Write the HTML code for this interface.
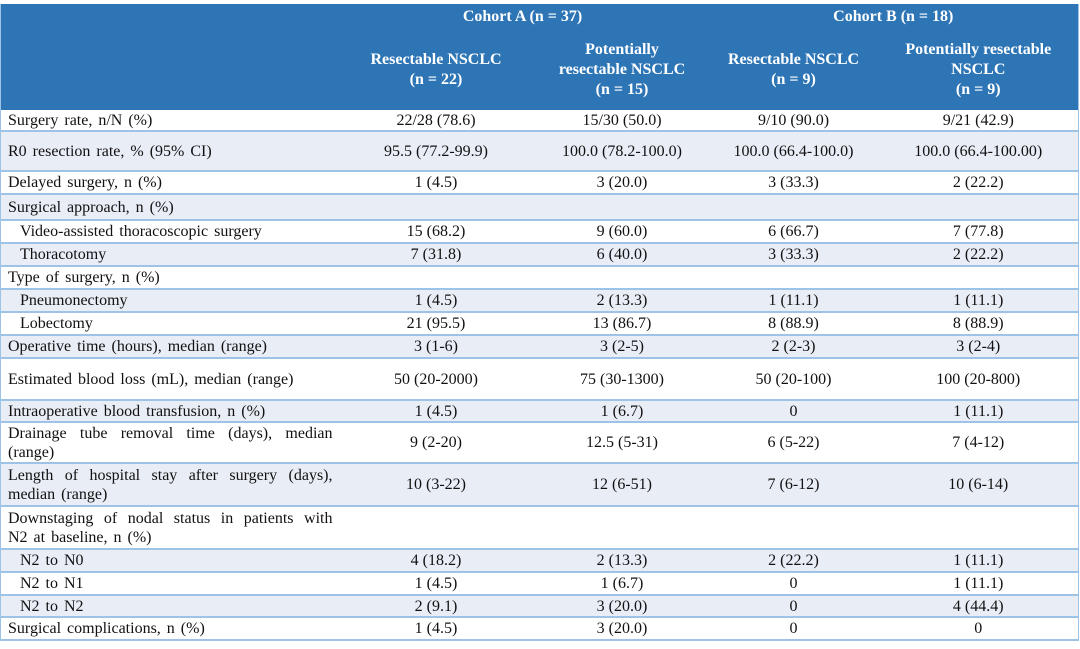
<!DOCTYPE html>
<html><head><style>
body{margin:0;background:#fff;width:1080px;height:649px;overflow:hidden}
table{position:absolute;left:0;top:4px;width:1078px;border-collapse:collapse;table-layout:fixed;font-family:"Liberation Serif",serif;font-size:16px;color:#111;border-left:1px solid #9DC3E6;border-right:1px solid #9DC3E6}
td,th{padding:0;border-bottom:2px solid #9DC3E6;line-height:19px;text-align:center;vertical-align:middle;white-space:nowrap;overflow:hidden}
th{background:#2E75B6;color:#fff;font-weight:bold;border:none;line-height:20px}
td.l{text-align:left;padding-left:7px;padding-right:4px;word-spacing:2px}
td.i{text-align:left;padding-left:19px;word-spacing:2px}
span.j{display:block;text-align:justify;text-align-last:justify}
tr.s td{background:#E9EDF6}
</style></head><body>
<table>
<colgroup><col style="width:336px"><col style="width:199px"><col style="width:173px"><col style="width:170px"><col style="width:200px"></colgroup>
<tr style="height:26px"><th></th><th colspan="2">Cohort A (n = 37)</th><th colspan="2">Cohort B (n = 18)</th></tr>
<tr style="height:80px"><th></th><th>Resectable NSCLC<br>(n = 22)</th><th>Potentially<br>resectable NSCLC<br>(n = 15)</th><th>Resectable NSCLC<br>(n = 9)</th><th>Potentially resectable<br>NSCLC<br>(n = 9)</th></tr>
<tr style="height:21px"><td class="l">Surgery rate, n/N (%)</td><td>22/28 (78.6)</td><td>15/30 (50.0)</td><td>9/10 (90.0)</td><td>9/21 (42.9)</td></tr>
<tr class="s" style="height:40px"><td class="l">R0 resection rate, % (95% CI)</td><td>95.5 (77.2-99.9)</td><td>100.0 (78.2-100.0)</td><td>100.0 (66.4-100.0)</td><td>100.0 (66.4-100.00)</td></tr>
<tr style="height:23px"><td class="l">Delayed surgery, n (%)</td><td>1 (4.5)</td><td>3 (20.0)</td><td>3 (33.3)</td><td>2 (22.2)</td></tr>
<tr class="s" style="height:26px"><td class="l">Surgical approach, n (%)</td><td></td><td></td><td></td><td></td></tr>
<tr style="height:23px"><td class="i">Video-assisted thoracoscopic surgery</td><td>15 (68.2)</td><td>9 (60.0)</td><td>6 (66.7)</td><td>7 (77.8)</td></tr>
<tr class="s" style="height:23px"><td class="i">Thoracotomy</td><td>7 (31.8)</td><td>6 (40.0)</td><td>3 (33.3)</td><td>2 (22.2)</td></tr>
<tr style="height:23px"><td class="l">Type of surgery, n (%)</td><td></td><td></td><td></td><td></td></tr>
<tr class="s" style="height:23px"><td class="i">Pneumonectomy</td><td>1 (4.5)</td><td>2 (13.3)</td><td>1 (11.1)</td><td>1 (11.1)</td></tr>
<tr style="height:23px"><td class="i">Lobectomy</td><td>21 (95.5)</td><td>13 (86.7)</td><td>8 (88.9)</td><td>8 (88.9)</td></tr>
<tr class="s" style="height:23px"><td class="l">Operative time (hours), median (range)</td><td>3 (1-6)</td><td>3 (2-5)</td><td>2 (2-3)</td><td>3 (2-4)</td></tr>
<tr style="height:42px"><td class="l">Estimated blood loss (mL), median (range)</td><td>50 (20-2000)</td><td>75 (30-1300)</td><td>50 (20-100)</td><td>100 (20-800)</td></tr>
<tr class="s" style="height:22px"><td class="l">Intraoperative blood transfusion, n (%)</td><td>1 (4.5)</td><td>1 (6.7)</td><td>0</td><td>1 (11.1)</td></tr>
<tr style="height:41px"><td class="l"><span class="j">Drainage tube removal time (days), median</span>(range)</td><td>9 (2-20)</td><td>12.5 (5-31)</td><td>6 (5-22)</td><td>7 (4-12)</td></tr>
<tr class="s" style="height:43px"><td class="l"><span class="j">Length of hospital stay after surgery (days),</span>median (range)</td><td>10 (3-22)</td><td>12 (6-51)</td><td>7 (6-12)</td><td>10 (6-14)</td></tr>
<tr style="height:43px"><td class="l"><span class="j">Downstaging of nodal status in patients with</span>N2 at baseline, n (%)</td><td></td><td></td><td></td><td></td></tr>
<tr class="s" style="height:23px"><td class="i">N2 to N0</td><td>4 (18.2)</td><td>2 (13.3)</td><td>2 (22.2)</td><td>1 (11.1)</td></tr>
<tr style="height:23px"><td class="i">N2 to N1</td><td>1 (4.5)</td><td>1 (6.7)</td><td>0</td><td>1 (11.1)</td></tr>
<tr class="s" style="height:22px"><td class="i">N2 to N2</td><td>2 (9.1)</td><td>3 (20.0)</td><td>0</td><td>4 (44.4)</td></tr>
<tr style="height:23px"><td class="l">Surgical complications, n (%)</td><td>1 (4.5)</td><td>3 (20.0)</td><td>0</td><td>0</td></tr>
</table>
</body></html>
